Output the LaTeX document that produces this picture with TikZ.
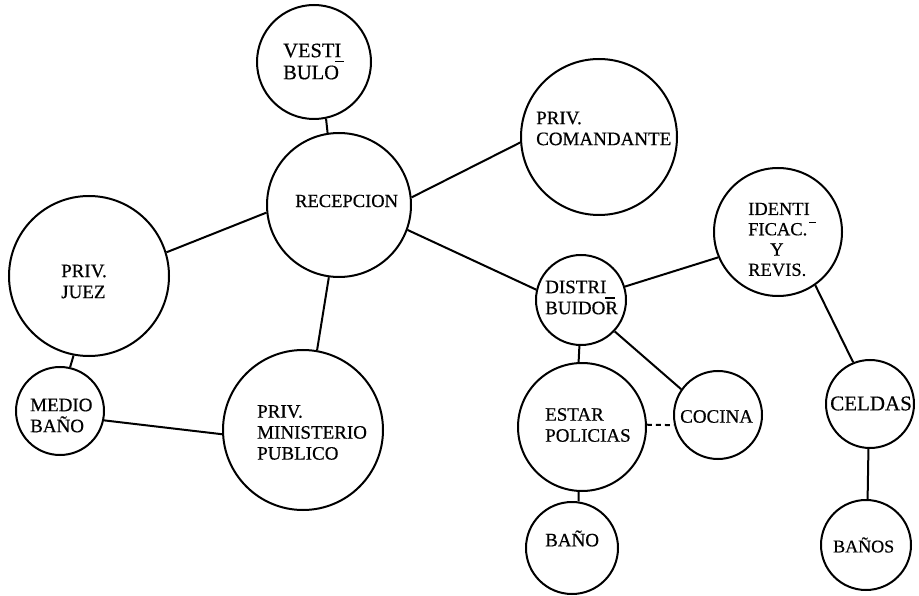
\documentclass[tikz,border=0pt]{standalone}
\usepackage{fontspec}
\setmainfont{Liberation Serif}
\newfontfamily\roomfont[BoldFont={Liberation Serif}, BoldFeatures={FakeBold=0.5}]{Liberation Serif}
\begin{document}
\begin{tikzpicture}[x=1pt,y=-1pt,
  room/.style={draw, circle, line width=2pt, inner sep=0pt, minimum size=#1},
  lbl/.style={anchor=west, align=left, inner sep=0pt, font=\roomfont\bfseries\fontsize{19}{21}\selectfont},
  link/.style={line width=2pt},
]
\useasboundingbox (0,0) rectangle (919,596);

% rooms
\node[room=114pt] (vest)   at (314,62)  {};
\node[room=144pt] (recep)  at (339,205) {};
\node[room=156pt] (coman)  at (599,137) {};
\node[room=160pt] (juez)   at (89,276)  {};
\node[room=88pt]  (medio)  at (60,411)  {};
\node[room=160pt] (minis)  at (303,430) {};
\node[room=90pt]  (distr)  at (581,300) {};
\node[room=128pt] (estar)  at (582,427) {};
\node[room=88pt]  (cocina) at (718,415) {};
\node[room=128pt] (ident)  at (778,232) {};
\node[room=88pt]  (celdas) at (870,404) {};
\node[room=90pt]  (banos)  at (866,545) {};
\node[room=92pt]  (bano)   at (572,548) {};

% room names
\node[lbl, font=\roomfont\bfseries\fontsize{20.5}{22}\selectfont] (tvest) at (283,61.5)
  {VESTI\\BULO\kern-4pt\rlap{\rule[17pt]{9pt}{1.2pt}}};
\node[lbl, font=\roomfont\bfseries\fontsize{18.5}{21}\selectfont] (trecep) at (295,201) {RECEPCION};
\node[lbl] (tcoman) at (536,128.5) {PRIV.\\COMANDANTE};
\node[lbl] (tjuez) at (61,281.5) {PRIV.\\JUEZ};
\node[lbl] (tmedio) at (30,415.5) {MEDIO\\BAÑO};
\node[lbl] (tminis) at (257,432.5) {PRIV.\\MINISTERIO\\PUBLICO};
\node[lbl] (tdistr) at (545,297.5)
  {DISTRI\\BUIDOR\llap{\rule[15.5pt]{10pt}{1.2pt}\kern3pt}};
\node[lbl] (testar) at (545,425) {ESTAR\\POLICIAS};
\node[lbl] (tcocina) at (680,416.5) {COCINA};
\node[lbl, font=\roomfont\bfseries\fontsize{18.5}{20.3}\selectfont] (tident) at (748,239.5)
  {IDENTI\\FICAC.\kern2pt\rule[12.5pt]{7pt}{1.2pt}\\\hspace*{22pt}Y\\REVIS.};
\node[lbl, font=\roomfont\bfseries\fontsize{21}{23}\selectfont] (tceldas) at (830,403.5) {CELDAS};
\node[lbl, font=\roomfont\bfseries\fontsize{18}{21}\selectfont] (tbanos) at (833,545) {BAÑOS};
\node[lbl] (tbano) at (545,538.5) {BAÑO};

% connections
\draw[link] (vest.282) -- (recep.99);
\draw[link] (recep.6) -- (coman.184);
\draw[link] (recep.186) -- (juez.17);
\draw[link] (recep.262) -- (minis.80);
\draw[link] (recep.-20) -- (distr.167);
\draw[link] (juez.259) -- (medio.77);
\draw[link] (medio.-12) -- (minis.183);
\draw[link] (distr.17) -- (ident.203);
\draw[link] (distr.268) -- (estar.93);
\draw[link] (distr.-43) -- (cocina.145);
\draw[link, dash pattern=on 5pt off 4pt] (estar.2) -- (cocina.193);
\draw[link] (estar.267) -- (bano.82);
\draw[link] (ident.-55) -- (celdas.112);
\draw[link] (celdas.268) -- (banos.88);
\end{tikzpicture}
\end{document}
